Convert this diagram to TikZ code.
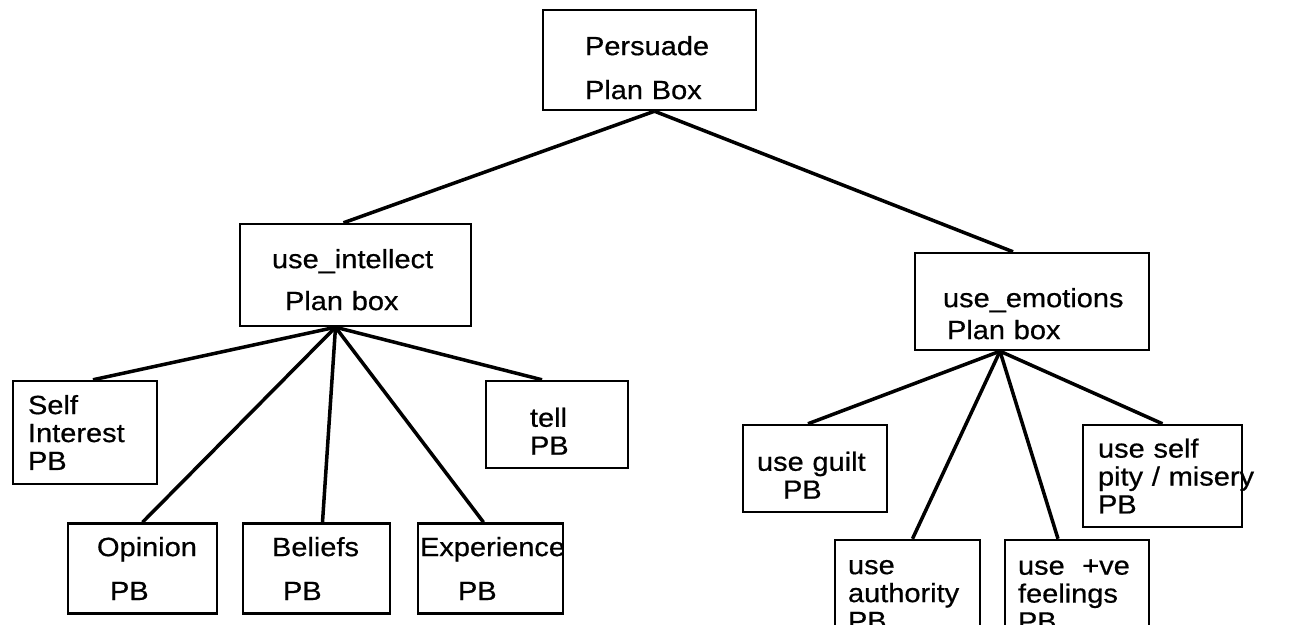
\documentclass[tikz,border=0pt]{standalone}
\usepackage{fontspec}
\setmainfont{Liberation Sans}[FakeStretch=1.10,FakeBold=0.6]
\usetikzlibrary{calc}

\begin{document}
\begin{tikzpicture}[x=0.02cm,y=-0.02cm,
  pbox/.style={draw=black, line width=1.4pt, align=left, inner ysep=0pt,
    font=\fontsize{15}{15.9}\selectfont},
  lower/.style={execute at begin node={\rule{0pt}{#1}}},
  link/.style={black, line width=2pt}]
\useasboundingbox (0,0) rectangle (1303,625);
\clip (0,0) rectangle (1303,625);
% top and middle plan boxes
\node [pbox, lower=0.69cm, text width=2.58cm, inner xsep=0.84cm, minimum height=2cm] (persuade) at (649.5,60) {Persuade\\[0.32cm]\mbox{Plan Box}};
\node [pbox, lower=0.57cm, text width=3.34cm, inner xsep=0.64cm, minimum height=2.04cm] (intellect) at (355.5,275) {\mbox{use\_intellect}\\[0.28cm]\hspace{0.26cm}\mbox{Plan box}};
\node [pbox, lower=0.87cm, text width=3.56cm, inner xsep=0.56cm, minimum height=1.94cm] (emotions) at (1032,301.5) {\mbox{use\_emotions}\\[0.08cm]\hspace{0.08cm}\mbox{Plan box}};
% intellect side
\node [pbox, text width=2.28cm, inner xsep=0.30cm, minimum height=2.06cm] (selfint) at (85,432.5) {Self\\Interest\\PB};
\node [pbox, lower=0.65cm, text width=1.08cm, inner xsep=0.88cm, minimum height=1.74cm] (tell) at (557,424.5) {tell\\PB};
\node [pbox, text width=1.82cm, inner xsep=0.58cm, minimum height=1.80cm] (opinion) at (142.5,568.5) {\mbox{Opinion}\\[0.32cm]\hspace{0.26cm}PB};
\node [pbox, text width=1.78cm, inner xsep=0.58cm, minimum height=1.80cm] (beliefs) at (316.5,568.5) {\mbox{Beliefs}\\[0.32cm]\hspace{0.22cm}PB};
\node [pbox, text width=2.82cm, inner xsep=0.04cm, minimum height=1.80cm] (experience) at (490.5,568.5) {\mbox{Experience}\\[0.32cm]\hspace{0.76cm}PB};
% emotions side
\node [pbox, lower=0.65cm, text width=2.32cm, inner xsep=0.28cm, minimum height=1.74cm] (guilt) at (815,468.5) {\mbox{use guilt}\\\hspace{0.52cm}PB};
\node [pbox, text width=2.58cm, inner xsep=0.30cm, minimum height=2.04cm] (selfpity) at (1162.5,476) {\mbox{use self}\\\mbox{pity / misery}\\PB};
\node [pbox, text width=2.38cm, inner xsep=0.26cm, minimum height=2.20cm] (authority) at (907.5,595) {use\\authority\\PB};
\node [pbox, text width=2.36cm, inner xsep=0.26cm, minimum height=2.20cm] (feelings) at (1077,595) {\mbox{use\ \ +ve}\\feelings\\PB};
% connectors
\draw [link] ($(persuade.south)+(5,0)$) -- ($(intellect.north)+(-12,0)$);
\draw [link] ($(persuade.south)+(5,0)$) -- ($(emotions.north)+(-19,0)$);
\draw [link] ($(intellect.south)+(-20,0)$) -- ($(selfint.north)+(8,0)$);
\draw [link] ($(intellect.south)+(-20,0)$) -- (opinion.north);
\draw [link] ($(intellect.south)+(-20,0)$) -- ($(beliefs.north)+(6,0)$);
\draw [link] ($(intellect.south)+(-20,0)$) -- ($(experience.north)+(-7,0)$);
\draw [link] ($(intellect.south)+(-20,0)$) -- ($(tell.north)+(-15,0)$);
\draw [link] ($(emotions.south)+(-32,0)$) -- ($(guilt.north)+(-7,0)$);
\draw [link] ($(emotions.south)+(-32,0)$) -- ($(authority.north)+(5,0)$);
\draw [link] ($(emotions.south)+(-32,0)$) -- ($(feelings.north)+(-19,0)$);
\draw [link] ($(emotions.south)+(-32,0)$) -- (selfpity.north);
\end{tikzpicture}
\end{document}
